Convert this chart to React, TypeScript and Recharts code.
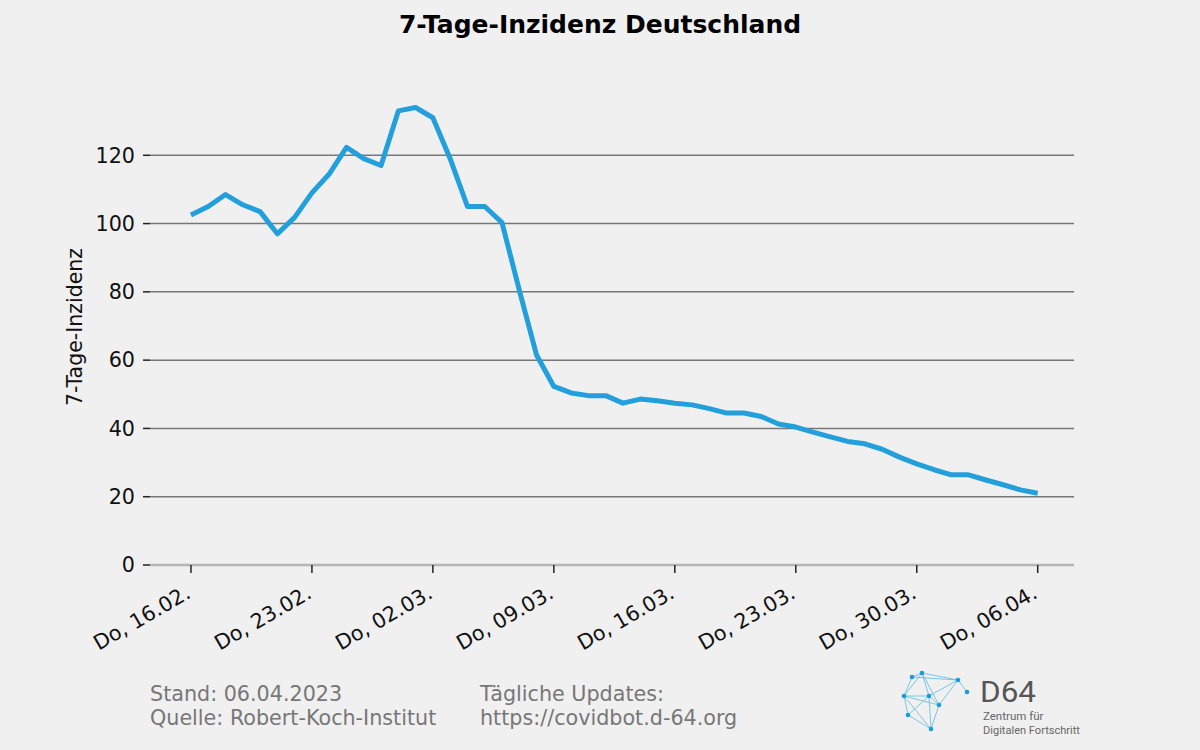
import { LineChart, Line, XAxis, YAxis, ReferenceLine } from 'recharts'

const FONT = '"DejaVu Sans", sans-serif'

// one value per day, 16.02. to 06.04.
const incidence = [
  102.5, 105, 108.5, 105.5, 103.5, 97, 101.8, 109, 114.5, 122.3,
  119, 117, 133, 134, 131, 119, 105, 105, 100.3, 80.5,
  61.5, 52.3, 50.4, 49.6, 49.6, 47.4, 48.6, 48.1, 47.4, 46.9,
  45.8, 44.5, 44.5, 43.5, 41.3, 40.4, 38.9, 37.5, 36.2, 35.5,
  33.9, 31.6, 29.6, 27.9, 26.4, 26.4, 24.9, 23.5, 22, 21,
]

const tickDays = [0, 7, 14, 21, 28, 35, 42, 49]
const tickLabels = [
  'Do, 16.02.', 'Do, 23.02.', 'Do, 02.03.', 'Do, 09.03.',
  'Do, 16.03.', 'Do, 23.03.', 'Do, 30.03.', 'Do, 06.04.',
]
const yTicks = [0, 20, 40, 60, 80, 100, 120]

const data = incidence.map((v, i) => ({ day: i, value: v }))

const DateTick = (props: any) => {
  const { x, y, payload } = props
  const idx = tickDays.indexOf(payload.value)
  const px = x + 1
  const py = y + 22
  return (
    <text
      x={px}
      y={py}
      transform={`rotate(-30 ${px} ${py})`}
      textAnchor="end"
      fontSize={20.7}
      fontFamily={FONT}
      fill="#111"
    >
      {tickLabels[idx]}
    </text>
  )
}

// small stand-in for the D64 logo network
const logoNodes = [
  [912, 677], [922, 673], [958, 680], [967, 692], [904, 696],
  [929, 696], [939, 705], [908, 715], [931, 729],
]
const logoEdges = [
  [0, 1], [1, 2], [0, 2], [2, 3], [0, 4], [1, 4], [1, 5], [4, 5], [5, 2],
  [5, 6], [4, 6], [4, 7], [7, 5], [7, 8], [5, 8], [6, 8], [2, 6], [4, 8], [1, 6],
]

export default function App() {
  return (
    <div
      style={{
        position: 'absolute',
        left: 0,
        top: 0,
        width: 1200,
        height: 750,
        background: '#f0f0f0',
      }}
    >
      <LineChart
        width={1200}
        height={750}
        data={data}
        margin={{ top: 87, right: 0, bottom: 84, left: 0 }}
      >
        <XAxis
          dataKey="day"
          type="number"
          domain={[-2.37, 51.1]}
          ticks={tickDays}
          interval={0}
          height={101}
          axisLine={false}
          tickLine={{ stroke: '#222', strokeWidth: 1.5 }}
          tickSize={8}
          tick={<DateTick />}
        />
        <YAxis
          yAxisId="left"
          orientation="left"
          width={150}
          domain={[0, 140]}
          ticks={yTicks}
          interval={0}
          axisLine={false}
          tickLine={{ stroke: '#222', strokeWidth: 1.5 }}
          tickSize={7}
          tickMargin={8}
          tick={{ fontSize: 20.7, fontFamily: FONT, fill: '#111' }}
        />
        <YAxis
          yAxisId="right"
          orientation="right"
          width={126}
          domain={[0, 140]}
          ticks={yTicks}
          interval={0}
          axisLine={false}
          tickLine={{ stroke: '#777', strokeWidth: 1.5 }}
          tickSize={7}
          tickMargin={14}
          tick={{ fontSize: 20.7, fontFamily: FONT, fill: '#111' }}
        />
        {yTicks.slice(1).map((t) => (
          <ReferenceLine key={t} yAxisId="left" y={t} stroke="#777" strokeWidth={1.5} />
        ))}
        <ReferenceLine yAxisId="left" y={0} stroke="#b4b4b4" strokeWidth={2.5} />
        <Line
          yAxisId="left"
          type="linear"
          dataKey="value"
          stroke="#23a0dc"
          strokeWidth={5}
          dot={false}
          isAnimationActive={false}
          strokeLinejoin="round"
        />
      </LineChart>
      <svg
        width={1200}
        height={750}
        style={{ position: 'absolute', left: 0, top: 0, pointerEvents: 'none' }}
      >
        <text x={600} y={33} textAnchor="middle" fontSize={25} fontWeight="bold" fontFamily={FONT} fill="#000">
          7-Tage-Inzidenz Deutschland
        </text>
        <text
          x={82}
          y={327}
          transform="rotate(-90 82 327)"
          textAnchor="middle"
          fontSize={20.5}
          fontFamily={FONT}
          fill="#111"
        >
          7-Tage-Inzidenz
        </text>
        <g fontSize={20.7} fontFamily={FONT} fill="#777">
          <text x={150} y={701}>Stand: 06.04.2023</text>
          <text x={150} y={725}>Quelle: Robert-Koch-Institut</text>
          <text x={480} y={701}>Tägliche Updates:</text>
          <text x={480} y={725}>https://covidbot.d-64.org</text>
        </g>
        <g stroke="#3aaee0" strokeWidth={0.8} opacity={0.8}>
          {logoEdges.map(([a, b], i) => (
            <line key={i} x1={logoNodes[a][0]} y1={logoNodes[a][1]} x2={logoNodes[b][0]} y2={logoNodes[b][1]} />
          ))}
        </g>
        {logoNodes.map(([cx, cy], i) => (
          <circle key={i} cx={cx} cy={cy} r={2.3} fill="#1b9bd7" />
        ))}
        <text x={980} y={702} fontSize={29} fontFamily="Roboto, sans-serif" fill="#555" textLength={56} lengthAdjust="spacingAndGlyphs">
          D64
        </text>
        <text x={983} y={720} fontSize={11.5} fontFamily="Roboto, sans-serif" fill="#666">
          Zentrum für
        </text>
        <text x={983} y={734} fontSize={11.5} fontFamily="Roboto, sans-serif" fill="#666" textLength={97} lengthAdjust="spacingAndGlyphs">
          Digitalen Fortschritt
        </text>
      </svg>
    </div>
  )
}
